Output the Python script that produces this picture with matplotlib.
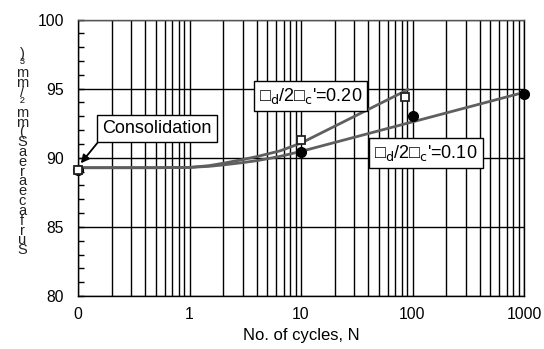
import matplotlib
matplotlib.use("Agg")
import matplotlib.pyplot as plt
from matplotlib.ticker import FixedLocator, FixedFormatter, MultipleLocator, LogLocator, NullFormatter

plt.rcParams['font.family'] = ['Liberation Sans', 'DejaVu Sans']

# measured data (markers)
n_020 = [0.1, 10, 85]
s_020 = [89.1, 91.3, 94.4]
n_010 = [0.1, 10, 100, 1000]
s_010 = [89.1, 90.4, 93.0, 94.6]

# trend curves
fit_n_020 = [0.1, 0.5, 1, 1.5, 2, 3, 4.1, 6.5, 10, 91]
fit_s_020 = [89.28, 89.28, 89.3, 89.43, 89.6, 89.87, 90.1, 90.5, 91.06, 94.93]
fit_n_010 = [0.1, 0.5, 1, 1.5, 2, 3, 4.1, 6.5, 10, 1000]
fit_s_010 = [89.28, 89.28, 89.3, 89.38, 89.48, 89.65, 89.8, 90.1, 90.46, 94.73]

xtick_vals = [0.1, 1, 10, 100, 1000]
xtick_labels = ["0", "1", "10", "100", "1000"]
ytick_vals = [80, 85, 90, 95, 100]

fig = plt.figure(figsize=(5.44, 3.49), dpi=100)
ax = fig.add_axes([78/544, 53/349, 446/544, 276.5/349])

ax.set_xscale('log')
ax.set_xlim(0.1, 1000)
ax.set_ylim(80, 100)

# grid
ax.xaxis.set_major_locator(FixedLocator(xtick_vals))
ax.xaxis.set_major_formatter(FixedFormatter(xtick_labels))
ax.xaxis.set_minor_locator(LogLocator(base=10, subs=range(2, 10)))
ax.xaxis.set_minor_formatter(NullFormatter())
ax.yaxis.set_major_locator(FixedLocator(ytick_vals))
ax.yaxis.set_minor_locator(MultipleLocator(1))
ax.grid(True, which='both', axis='x', color='black', lw=1.0)
ax.grid(True, which='major', axis='y', color='black', lw=1.0)
ax.set_axisbelow(True)

ax.tick_params(axis='y', which='both', direction='in', left=True, right=False,
               labelsize=11.3, pad=10, width=1, length=4)
ax.tick_params(axis='x', which='both', direction='in', length=0, labelsize=11.3, pad=8)

for sp in ax.spines.values():
    sp.set_color('black')
    sp.set_linewidth(1.0)
ax.spines['top'].set_color('#555555')

# curves
ax.plot(fit_n_020, fit_s_020, color='#5f5f5f', lw=2, zorder=3)
ax.plot(fit_n_010, fit_s_010, color='#5f5f5f', lw=2, zorder=3)

# markers
ax.plot(n_010, s_010, linestyle='none', marker='o', ms=7, mfc='black', mec='black',
        clip_on=False, zorder=4)
ax.plot(n_020, s_020, linestyle='none', marker='s', ms=5.5, mfc='white', mec='#222222',
        mew=1.3, clip_on=False, zorder=5)

ax.set_xlabel("No. of cycles, N", fontsize=12, labelpad=4)

# annotations
box = dict(boxstyle='square,pad=0.28', fc='white', ec='black', lw=1.0)
ax.annotate("Consolidation", xy=(0.106, 89.6), xycoords='data',
            xytext=(0.177, 0.606), textcoords='axes fraction',
            ha='center', va='center', fontsize=13, bbox=box, zorder=6,
            arrowprops=dict(arrowstyle='-|>', color='black', lw=1.3,
                            mutation_scale=12, relpos=(0.0, 0.0),
                            shrinkA=0, shrinkB=0))
ax.text(0.521, 0.723, "\u25a1$_\\mathrm{d}$/2\u25a1$_\\mathrm{c}$'=0.20", transform=ax.transAxes,
        ha='center', va='center', fontsize=13, bbox=box, zorder=6)
ax.text(0.780, 0.517, "\u25a1$_\\mathrm{d}$/2\u25a1$_\\mathrm{c}$'=0.10", transform=ax.transAxes,
        ha='center', va='center', fontsize=13, bbox=box, zorder=6)

# stacked y label (characters read bottom-to-top)
ylabel = "Surface area S (mm²/mm³)"
stacked = "\n".join(reversed(ylabel.replace(" ", "")))
fig.text(22/544, 1 - 152/349, stacked, ha='center', va='center', fontsize=10.5,
         linespacing=0.62, color='#222222')

fig.savefig("out.png", dpi=100)
